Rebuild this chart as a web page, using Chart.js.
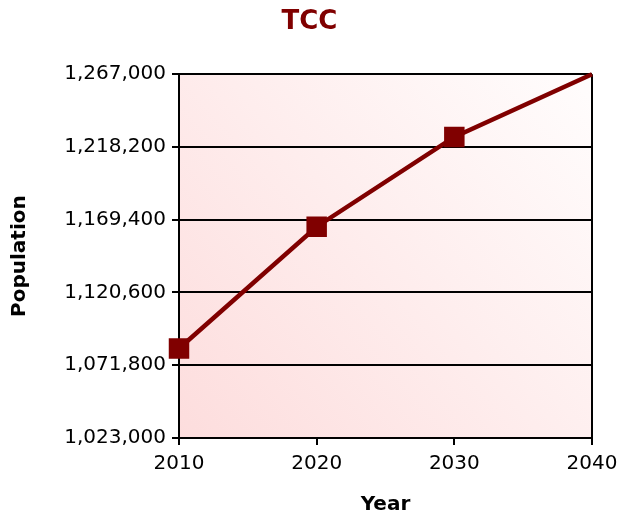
<!DOCTYPE html>
<html>
<head>
<meta charset="utf-8">
<script src="https://cdn.jsdelivr.net/npm/chart.js@4"></script>
<style>
  html, body { margin: 0; padding: 0; background: #fff; }
  #wrap { width: 619px; height: 519px; }
</style>
</head>
<body>
<div id="wrap"><canvas id="tccChart"></canvas></div>
<script>
// Data
const years = [2010, 2020, 2030, 2040];
const population = [1083000, 1164700, 1224900, 1267000];
const yTicks = { min: 1023000, max: 1267000, step: 48800 };
const xTicks = { min: 2010, max: 2040, step: 10 };

const darkRed = '#800000';

// pink-to-white wash behind the plot area
const plotBackground = {
    id: 'plotBackground',
    beforeDraw(chart) {
        const { ctx, chartArea: a } = chart;
        const g = ctx.createLinearGradient(a.left, a.bottom, a.right, a.top);
        g.addColorStop(0, 'rgb(253,221,221)');
        g.addColorStop(1, 'rgb(255,253,253)');
        ctx.save();
        ctx.fillStyle = g;
        ctx.fillRect(a.left, a.top, a.right - a.left, a.bottom - a.top);
        ctx.restore();
    }
};

new Chart(document.getElementById('tccChart'), {
    type: 'line',
    data: {
        datasets: [{
            label: 'TCC',
            data: years.map((y, i) => ({ x: y, y: population[i] })),
            borderColor: darkRed,
            backgroundColor: darkRed,
            borderWidth: 4.5,
            tension: 0,
            clip: false,
            pointStyle: 'rect',
            pointRadius: years.map((_, i) => i === years.length - 1 ? 0 : 11.3),
            pointHoverRadius: 11.3,
            fill: false
        }]
    },
    options: {
        responsive: true,
        maintainAspectRatio: false,
        animation: false,
        layout: { padding: 0 },
        plugins: {
            legend: { display: false },
            tooltip: { enabled: false },
            title: {
                display: true,
                text: 'TCC',
                color: darkRed,
                font: { family: 'DejaVu Sans', size: 26, weight: 'bold' },
                padding: { top: 7, bottom: 36 }
            }
        },
        scales: {
            x: {
                type: 'linear',
                min: xTicks.min,
                max: xTicks.max,
                afterFit: s => { s.height = 81; s.paddingRight = 27; },
                border: { display: true, color: '#000', width: 2 },
                grid: {
                    color: c => c.index === 3 ? '#000' : 'rgba(0,0,0,0)',
                    lineWidth: 2,
                    tickColor: '#000',
                    tickLength: 7
                },
                ticks: {
                    stepSize: xTicks.step,
                    color: '#000',
                    padding: 7,
                    maxRotation: 0,
                    font: { family: 'DejaVu Sans', size: 20 },
                    callback: v => String(v)
                },
                title: {
                    display: true,
                    text: 'Year',
                    color: '#000',
                    font: { family: 'DejaVu Sans', size: 20, weight: 'bold' },
                    padding: { top: 4, bottom: 2 }
                }
            },
            y: {
                min: yTicks.min,
                max: yTicks.max,
                afterFit: s => { s.width = 179; },
                border: { display: true, color: '#000', width: 2 },
                grid: {
                    color: '#000',
                    lineWidth: 2,
                    tickColor: '#000',
                    tickLength: 7
                },
                ticks: {
                    stepSize: yTicks.step,
                    color: '#000',
                    padding: 6,
                    font: { family: 'DejaVu Sans', size: 20 },
                    callback: v => v.toLocaleString('en-US')
                },
                title: {
                    display: true,
                    text: 'Population',
                    color: '#000',
                    font: { family: 'DejaVu Sans', size: 20, weight: 'bold' },
                    padding: { top: 8, bottom: 4 }
                }
            }
        }
    },
    plugins: [plotBackground]
});
</script>
</body>
</html>
